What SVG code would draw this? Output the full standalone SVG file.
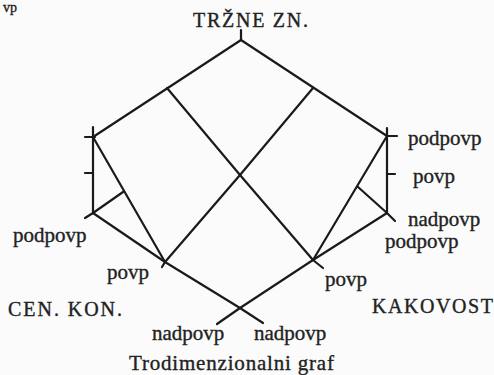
<svg xmlns="http://www.w3.org/2000/svg" width="494" height="375" viewBox="0 0 494 375">
<style>
.ln{fill:none;stroke:#1a1a1a;stroke-width:2.2;stroke-linecap:round;stroke-linejoin:round}
text{font-family:"Liberation Serif","Times New Roman",serif;fill:#222;stroke:#222;stroke-width:0.35}
.lb{font-size:21px}
.cap{font-size:20px}
</style>
<rect width="494" height="375" fill="#fbfbfb"/>
<text x="3" y="12" font-size="14">vp</text>
<g id="connectors">
<path class="ln" d="M241 30 L241 40"/>
<path class="ln" d="M241 40 L93 137"/>
<path class="ln" d="M241 40 L387 136"/>
<path class="ln" d="M167 88 L240 175 L313 260 L323 268"/>
<path class="ln" d="M313 88 L240 175 L165 262 L162 267"/>
<path class="ln" d="M93 127 L93 213 L85 218"/>
<path class="ln" d="M85 137 L95 137"/>
<path class="ln" d="M85 173 L93 173"/>
<path class="ln" d="M93 137 L165 262"/>
<path class="ln" d="M93 213 L123 192"/>
<path class="ln" d="M93 213 L165 262 L240 308 L263 323"/>
<path class="ln" d="M387 128 L387 213 L395 221"/>
<path class="ln" d="M387 136 L397 136"/>
<path class="ln" d="M387 174 L395 174"/>
<path class="ln" d="M387 136 L313 260"/>
<path class="ln" d="M358 187 L387 213"/>
<path class="ln" d="M387 213 L313 260 L240 308 L217 324"/>
</g>
<g id="trzne"><text class="cap" x="193" y="27" textLength="115">TRŽNE  ZN.</text></g>
<g id="cenkon"><text class="cap" x="8" y="316" textLength="114">CEN.  KON.</text></g>
<g id="kakovost"><text class="cap" x="372" y="313" textLength="121">KAKOVOST</text></g>
<g id="l-podpovp"><text class="lb" x="13" y="242">podpovp</text></g>
<g id="l-povp"><text class="lb" x="107" y="279">povp</text></g>
<g id="r-podpovp1"><text class="lb" x="408" y="145">podpovp</text></g>
<g id="r-povp1"><text class="lb" x="413" y="183">povp</text></g>
<g id="r-nadpovp"><text class="lb" x="408" y="226">nadpovp</text></g>
<g id="r-podpovp2"><text class="lb" x="385" y="248">podpovp</text></g>
<g id="r-povp2"><text class="lb" x="325" y="286">povp</text></g>
<g id="b-nadpovp1"><text class="lb" x="152" y="340">nadpovp</text></g>
<g id="b-nadpovp2"><text class="lb" x="254" y="340">nadpovp</text></g>
<g id="caption"><text class="lb" x="129" y="370" textLength="205">Trodimenzionalni  graf</text></g>
</svg>
